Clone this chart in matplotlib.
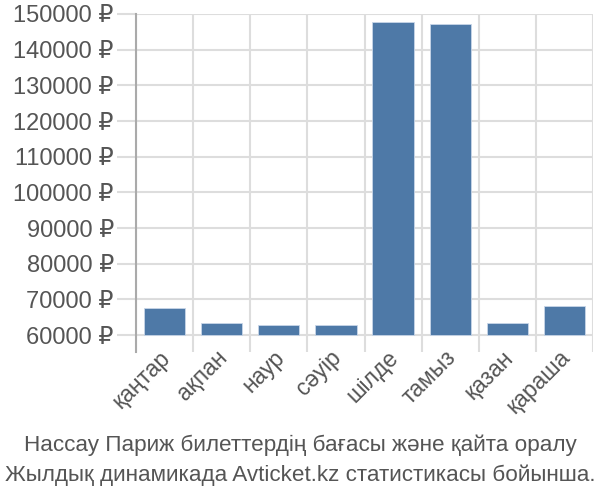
import matplotlib
matplotlib.use("Agg")
import matplotlib.pyplot as plt
import matplotlib.transforms as mtransforms
import numpy as np

months = ["қаңтар", "ақпан", "наур", "сәуір", "шілде", "тамыз", "қазан", "қараша"]
prices = [67600, 63400, 62900, 62900, 147800, 147200, 63300, 68100]
yticks = [60000, 70000, 80000, 90000, 100000, 110000, 120000, 130000, 140000, 150000]
title_lines = ["Нассау Париж билеттердің бағасы және қайта оралу",
               "Жылдық динамикада Avticket.kz статистикасы бойынша."]

plt.rcParams['font.family'] = ['Liberation Sans', 'DejaVu Sans']
text_color = "#555555"
grid_color = "#dddddd"

fig = plt.figure(figsize=(6, 5), dpi=100)
ax = fig.add_axes([136/600, 1-352/500, (593-136)/600, (352-14)/500])

x = np.arange(len(months))
base = yticks[0]
ax.bar(x, [p - base for p in prices], bottom=base, width=0.72,
       color="#4e79a7", edgecolor="#c8d6e8", linewidth=0.6, zorder=3)

ax.set_xlim(-0.5, len(months) - 0.5)
ax.set_ylim(55240, 150000)

ax.set_yticks(yticks)
ax.set_yticklabels([f"{v} ₽" for v in yticks])
ax.set_xticks(x)
ax.set_xticklabels(months, rotation=45, ha="right", va="top", rotation_mode="anchor")

ax.tick_params(axis="y", length=14, width=1.5, color=grid_color, labelsize=17, labelcolor=text_color, pad=2)
ax.tick_params(axis="x", which="major", length=0, labelsize=16.5, labelcolor=text_color, pad=0)

offset = mtransforms.ScaledTranslation(-6/100, 6/100, fig.dpi_scale_trans)
for lab in ax.get_xticklabels():
    lab.set_transform(lab.get_transform() + offset)

for t in yticks:
    ax.axhline(t, color=grid_color, linewidth=1.5, zorder=1)
for b in np.arange(-0.5, len(months)):
    ax.axvline(b, color=grid_color, linewidth=1.5, zorder=1)

for s in ["top", "right", "bottom"]:
    ax.spines[s].set_visible(False)
ax.spines["left"].set_color("#aaaaaa")
ax.spines["left"].set_linewidth(1.5)
ax.spines["left"].set_zorder(4)

fig.text(0.5, 1-445/500, title_lines[0], ha="center", va="center", fontsize=16.2, color=text_color)
fig.text(0.5, 1-475/500, title_lines[1], ha="center", va="center", fontsize=16.2, color=text_color)

fig.savefig("out.png", dpi=100)
